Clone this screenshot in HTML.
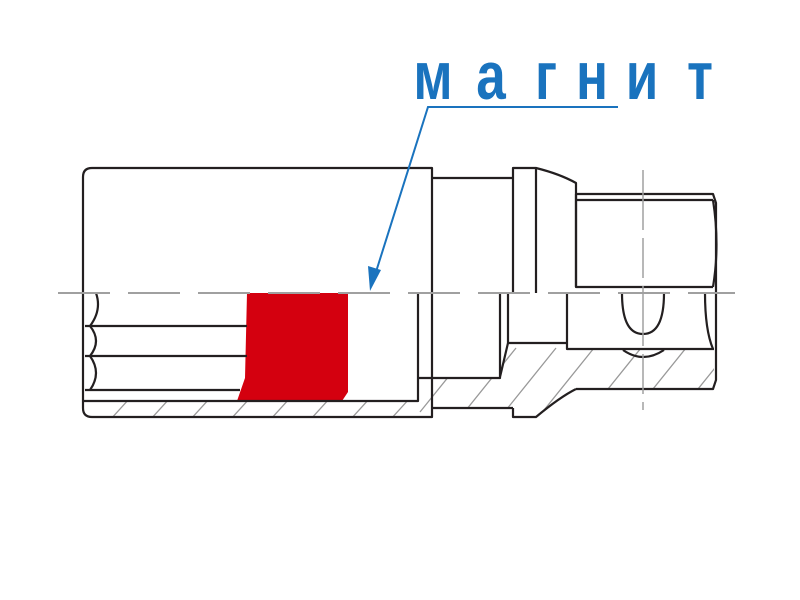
<!DOCTYPE html>
<html><head><meta charset="utf-8"><style>body{margin:0;background:#fff}svg{display:block}</style></head><body>
<svg width="800" height="600" viewBox="0 0 800 600" xmlns="http://www.w3.org/2000/svg">
<defs><clipPath id="hc"><path d="M85 401 H418 V378 H500 L508 343 H567 V349 H714 V389 H576 Q560 397 536 417 H513 V408 H432 V417 H85 Z"/></clipPath></defs>
<g clip-path="url(#hc)" stroke="#999" stroke-width="1.3">
<path d="M110 420 L130 398 M150 420 L170 398 M190 420 L210 398 M230 420 L250 398 M270 420 L290 398 M310 420 L330 398 M350 420 L370 398 M390 420 L410 398 M420 412 L462 360 M450 430 L516 348 M490 430 L556 348 M528 430 L594 348 M575 430 L641 348 M620 430 L686 348 M665 430 L731 348"/>
</g>
<path d="M247 293 H348 V392 L342 401 H237 L245 378 Z" fill="#d4000f"/>
<g fill="none" stroke="#231f20" stroke-width="2.2" stroke-linejoin="round">
<path d="M432 168 H92 Q83 168 83 177 V408 Q83 417 92 417 H432 Z"/>
<path d="M83 401 H418 V293"/>
<path d="M85 326 H247 M85 356 H247 M85 390 H240"/>
<path d="M96 293 Q102 310 90 326 Q102 341 90 356 Q102 373 90 390"/>
<path d="M418 378 H500 V293 M500 377 L508 343 V293 M508 343 H567"/>
<path d="M432 178 H513 V168 H536 Q560 174 576 183 V287 M513 178 V293 M536 168 V293 M513 408 V417 H536 Q560 397 576 389 M432 408 H513"/>
<path d="M576 194 H713 L716 203 V380 L713 389 H576 M576 200 H713 M576 194 V287 H713"/>
<path d="M567 293 V349 H714"/>
<path d="M622 293 Q622 334 643 334 Q664 334 664 293"/>
<path d="M623 350 Q643 364 664 350"/>
<path d="M713 200 Q720 245 713 287 M705 293 Q705 330 713 349"/>
</g>
<g stroke="#a0a0a0" stroke-width="2">
<path d="M58 293 H735" stroke-dasharray="52 18"/>
<path d="M643 170 V410" stroke-width="1.5" stroke-dasharray="60 8 40 8"/>
</g>
<g stroke="#1a73be" stroke-width="2" fill="none"><path d="M618 107 H428 L375 275"/></g>
<path d="M370 291 L368 266 L381 270 Z" fill="#1a73be"/>
<g fill="#1a73be" font-family="Liberation Sans, sans-serif" font-size="68" font-weight="bold" text-anchor="middle">
<text transform="translate(433 99) scale(0.78 1)">м</text>
<text transform="translate(491 99) scale(0.78 1)">а</text>
<text transform="translate(546 99) scale(0.78 1)">г</text>
<text transform="translate(592 99) scale(0.78 1)">н</text>
<text transform="translate(642 99) scale(0.78 1)">и</text>
<text transform="translate(700 99) scale(0.78 1)">т</text>
</g>
</svg>
</body></html>
